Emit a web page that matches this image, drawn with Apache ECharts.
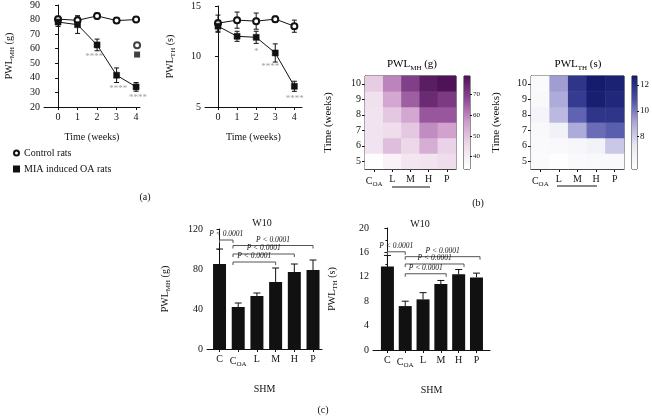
<!DOCTYPE html>
<html><head><meta charset="utf-8">
<script src="https://cdn.jsdelivr.net/npm/echarts@6/dist/echarts.min.js"></script>
<style>html,body{margin:0;padding:0;background:#fff}#c{width:652px;height:416px}</style>
</head><body><div id="c"></div>
<script>
// ---------- data ----------
const weeks = [0, 1, 2, 3, 4];
const weekLabels = ['0', '1', '2', '3', '4'];
const controlMH = [80.3, 79.5, 82.5, 79.3, 80.0];
const controlMHErr = [2, 3, 2, 2, 1.2];
const miaMH = [78.3, 76.5, 62.6, 41.8, 33.8];
const miaMHErr = [3, 6, 4, 5, 3];
const extraMarkersMH = [62.3, 56];
const starsMH = [[1.85, 54.6, '****'], [3.08, 32.9, '****'], [4.1, 26.7, '****']];

const controlTH = [13.3, 13.6, 13.5, 13.7, 13.0];
const controlTHErr = [0.8, 0.8, 0.8, 0.3, 0.6];
const miaTH = [13.0, 12.0, 11.9, 10.35, 7.05];
const miaTHErr = [0.6, 0.5, 0.6, 0.9, 0.5];
const starsTH = [[2, 10.5, '*'], [2.74, 9.0, '****'], [4.02, 5.85, '****']];

const heatGroups = ['C_OA', 'L', 'M', 'H', 'P'];
const heatTimes = ['5', '6', '7', '8', '9', '10'];
// rows: weeks 5..10, columns: C_OA, L, M, H, P
const heatMH = [
  [34, 38, 42, 43, 45],
  [43, 51, 46, 54, 47],
  [43, 45, 49, 59, 56],
  [43, 49, 55, 66, 66],
  [44, 55, 65, 74, 71],
  [48, 60, 70, 77, 79]
];
const heatTH = [
  [5.8, 5.6, 5.9, 6.0, 6.0],
  [5.9, 6.0, 6.1, 6.5, 8.2],
  [6.0, 6.6, 9.0, 10.3, 10.6],
  [6.4, 8.6, 10.5, 11.8, 11.8],
  [6.0, 9.0, 11.6, 12.6, 12.3],
  [5.9, 9.3, 11.8, 12.7, 12.5]
];
const mhRange = [34, 79];
const thRange = [5.5, 12.7];
const mhTicks = [40, 50, 60, 70];
const thTicks = [8, 10, 12];

const barCats = ['C', 'C_OA', 'L', 'M', 'H', 'P'];
const mhBar = [85, 42, 53, 67, 77, 79];
const mhBarErr = [15, 4, 3, 14, 8, 10];
const thBar = [13.7, 7.2, 8.3, 10.8, 12.4, 11.9];
const thBarErr = [1.8, 0.8, 1.1, 0.6, 0.8, 0.7];
const pText = 'P < 0.0001';
// [from category, to category, level]
const mhBrackets = [[0, 0.72, 109], [0.72, 5, 103.5], [0.72, 4, 95], [0.72, 3, 87]];
const thBrackets = [[0, 1, 16.1], [1, 5.2, 15.3], [1, 4.3, 14.1], [1, 3.3, 12.5]];

// ---------- styling ----------
const FONT = 'Liberation Serif';
const BLACK = '#111';
const mhColors = ['#ffffff', '#efdcec', '#cf9fcc', '#8e4a94', '#4d1356'];
const thColors = ['#ffffff', '#e8e8f4', '#aaa7d7', '#4a4fa6', '#151b6d'];
const rich = (big, small) => ({
  n: {fontSize: big, fontFamily: FONT, color: BLACK},
  s: {fontSize: small, fontFamily: FONT, color: BLACK, padding: [Math.round(big * 0.7), 0, 0, 0]}
});
const subLabel = (t) => t.includes('_') ? '{n|' + t.split('_')[0] + '}{s|' + t.split('_')[1] + '}' : '{n|' + t + '}';

const chart = echarts.init(document.getElementById('c'));

const axisLine = {show: true, lineStyle: {color: BLACK, width: 1}};
const tickOut = {show: true, inside: false, length: 3, lineStyle: {color: BLACK}};
const lbl = {color: BLACK, fontFamily: FONT, fontSize: 10};

function errRender(upOnly, cap) {
  return function (params, api) {
    const x = api.value(0), y = api.value(1), e = api.value(2);
    const hi = api.coord([x, y + e]);
    const lo = upOnly ? api.coord([x, y]) : api.coord([x, y - e]);
    const st = {stroke: BLACK, lineWidth: 1};
    const ch = [
      {type: 'line', shape: {x1: hi[0], y1: hi[1], x2: lo[0], y2: lo[1]}, style: st},
      {type: 'line', shape: {x1: hi[0] - cap, y1: hi[1], x2: hi[0] + cap, y2: hi[1]}, style: st}
    ];
    if (!upOnly) ch.push({type: 'line', shape: {x1: lo[0] - cap, y1: lo[1], x2: lo[0] + cap, y2: lo[1]}, style: st});
    return {type: 'group', children: ch};
  };
}
function bracketRender(params, api) {
  const y = api.value(2);
  const p1 = api.coord([api.value(0), y]), p2 = api.coord([api.value(1), y]);
  return {type: 'group', children: [
    {type: 'polyline', shape: {points: [[p1[0], p1[1] + 3], [p1[0], p1[1]], [p2[0], p2[1]], [p2[0], p2[1] + 3]]},
      style: {stroke: '#555', lineWidth: 1, fill: null}},
    {type: 'text', x: (p1[0] + p2[0]) / 2, y: p1[1] - 1.5,
      style: {text: pText, fontSize: 7.5, fontStyle: 'italic', fontFamily: FONT, fill: BLACK, align: 'center', verticalAlign: 'bottom'}}
  ]};
}

const series = [];
// line MH
series.push({type: 'custom', xAxisIndex: 0, yAxisIndex: 0, renderItem: errRender(false, 2.5), z: 1,
  data: weeks.map((w, i) => [w, controlMH[i], controlMHErr[i]])});
series.push({type: 'custom', xAxisIndex: 0, yAxisIndex: 0, renderItem: errRender(false, 2.5), z: 1,
  data: weeks.map((w, i) => [w, miaMH[i], miaMHErr[i]])});
const ctrlStyle = {symbol: 'circle', symbolSize: 6, lineStyle: {color: BLACK, width: 1},
  itemStyle: {color: '#fff', borderColor: BLACK, borderWidth: 2}};
const miaStyle = {symbol: 'rect', symbolSize: 6, lineStyle: {color: BLACK, width: 1},
  itemStyle: {color: BLACK, borderColor: BLACK, borderWidth: 0.5}};
series.push(Object.assign({type: 'line', name: 'Control rats', xAxisIndex: 0, yAxisIndex: 0, z: 3,
  data: weeks.map((w, i) => [w, controlMH[i]])}, ctrlStyle));
series.push(Object.assign({type: 'line', name: 'MIA induced OA rats', xAxisIndex: 0, yAxisIndex: 0, z: 3,
  data: weeks.map((w, i) => [w, miaMH[i]])}, miaStyle));
series.push({type: 'scatter', xAxisIndex: 0, yAxisIndex: 0, z: 3, symbolSize: 6,
  data: [{value: [4.05, extraMarkersMH[0]], symbol: 'circle', itemStyle: {color: '#fff', borderColor: BLACK, borderWidth: 2}},
         {value: [4.05, extraMarkersMH[1]], symbol: 'rect', itemStyle: {color: BLACK}}]});
const starSeries = (xi, yi, arr) => ({type: 'scatter', xAxisIndex: xi, yAxisIndex: yi, symbolSize: 1,
  itemStyle: {color: 'rgba(0,0,0,0)'}, z: 4,
  label: {show: true, position: 'inside', formatter: p => p.data.txt, color: '#888', fontSize: 9, fontFamily: FONT},
  data: arr.map(s => ({value: [s[0], s[1]], txt: s[2]}))});
series.push(starSeries(0, 0, starsMH));
// line TH
series.push({type: 'custom', xAxisIndex: 1, yAxisIndex: 1, renderItem: errRender(false, 2.5), z: 1,
  data: weeks.map((w, i) => [w, controlTH[i], controlTHErr[i]])});
series.push({type: 'custom', xAxisIndex: 1, yAxisIndex: 1, renderItem: errRender(false, 2.5), z: 1,
  data: weeks.map((w, i) => [w, miaTH[i], miaTHErr[i]])});
series.push(Object.assign({type: 'line', name: 'Control rats', xAxisIndex: 1, yAxisIndex: 1, z: 3,
  data: weeks.map((w, i) => [w, controlTH[i]])}, ctrlStyle));
series.push(Object.assign({type: 'line', name: 'MIA induced OA rats', xAxisIndex: 1, yAxisIndex: 1, z: 3,
  data: weeks.map((w, i) => [w, miaTH[i]])}, miaStyle));
series.push(starSeries(1, 1, starsTH));
// heatmaps
const heatData = (m) => { const d = []; m.forEach((row, r) => row.forEach((v, c) => d.push([c, r, v]))); return d; };
const hmIdx = series.length;
series.push({type: 'heatmap', xAxisIndex: 2, yAxisIndex: 2, data: heatData(heatMH)});
const htIdx = series.length;
series.push({type: 'heatmap', xAxisIndex: 3, yAxisIndex: 3, data: heatData(heatTH)});
// colorbars
const grad = (cols) => new echarts.graphic.LinearGradient(0, 1, 0, 0, cols.map((c, i) => ({offset: i / (cols.length - 1), color: c})));
series.push({type: 'bar', xAxisIndex: 6, yAxisIndex: 6, stack: 'cb1', barWidth: '100%', data: [mhRange[0]], itemStyle: {color: 'rgba(0,0,0,0)'}});
series.push({type: 'bar', xAxisIndex: 6, yAxisIndex: 6, stack: 'cb1', barWidth: '100%', data: [mhRange[1] - mhRange[0]], itemStyle: {color: grad(mhColors)}});
series.push({type: 'bar', xAxisIndex: 7, yAxisIndex: 7, stack: 'cb2', barWidth: '100%', data: [thRange[0]], itemStyle: {color: 'rgba(0,0,0,0)'}});
series.push({type: 'bar', xAxisIndex: 7, yAxisIndex: 7, stack: 'cb2', barWidth: '100%', data: [thRange[1] - thRange[0]], itemStyle: {color: grad(thColors)}});
// bars
series.push({type: 'bar', xAxisIndex: 4, yAxisIndex: 4, barWidth: 13, itemStyle: {color: BLACK}, data: mhBar.map((v, i) => [i, v])});
series.push({type: 'custom', xAxisIndex: 4, yAxisIndex: 4, renderItem: errRender(true, 3.5), data: mhBar.map((v, i) => [i, v, mhBarErr[i]])});
series.push({type: 'custom', xAxisIndex: 4, yAxisIndex: 4, renderItem: bracketRender, data: mhBrackets});
series.push({type: 'bar', xAxisIndex: 5, yAxisIndex: 5, barWidth: 13, itemStyle: {color: BLACK}, data: thBar.map((v, i) => [i, v])});
series.push({type: 'custom', xAxisIndex: 5, yAxisIndex: 5, renderItem: errRender(true, 3.5), data: thBar.map((v, i) => [i, v, thBarErr[i]])});
series.push({type: 'custom', xAxisIndex: 5, yAxisIndex: 5, renderItem: bracketRender, data: thBrackets});

const nameStyle = (big, small) => ({rich: rich(big, small)});
const valX = (gi, min, max, vals, fmt, name, gap) => ({
  type: 'value', gridIndex: gi, min: min, max: max, splitLine: {show: false},
  axisLine: axisLine, axisTick: Object.assign({customValues: vals}, tickOut),
  axisLabel: Object.assign({customValues: vals, formatter: fmt, margin: 5, rich: rich(10, 7)}, lbl),
  name: name, nameLocation: 'middle', nameGap: gap, nameTextStyle: {fontFamily: FONT, fontSize: 10, color: BLACK}
});
const valY = (gi, min, max, interval, name, gap, big, small, minor) => ({
  type: 'value', gridIndex: gi, min: min, max: max, interval: interval, splitLine: {show: false},
  axisLine: axisLine, axisTick: tickOut, axisLabel: Object.assign({margin: 4}, lbl),
  minorTick: {show: !!minor, splitNumber: 2, length: 2, lineStyle: {color: BLACK}},
  name: name, nameLocation: 'middle', nameGap: gap, nameRotate: 90, nameTextStyle: nameStyle(big, small)
});
const catIdx = (i) => subLabel(barCats[Math.round(i)]);

const option = {
  animation: false,
  backgroundColor: '#fff',
  textStyle: {fontFamily: FONT, color: BLACK},
  legend: {
    orient: 'vertical', left: 13, top: 148, itemWidth: 5, itemHeight: 5, itemGap: 6, padding: 0,
    textStyle: {fontFamily: FONT, fontSize: 10, color: BLACK},
    data: [{name: 'Control rats', icon: 'circle'}, {name: 'MIA induced OA rats', icon: 'rect'}]
  },
  grid: [
    {left: 44, top: 4, width: 96, height: 103},
    {left: 205, top: 6, width: 97, height: 101},
    {left: 365, top: 76, width: 91, height: 93, show: true, borderColor: '#222', borderWidth: 1},
    {left: 531, top: 76, width: 93, height: 93, show: true, borderColor: '#222', borderWidth: 1},
    {left: 207, top: 229, width: 115, height: 120},
    {left: 373, top: 228, width: 117, height: 122},
    {left: 464, top: 76, width: 6, height: 93, show: true, borderColor: '#222', borderWidth: 1},
    {left: 632, top: 76, width: 5, height: 93, show: true, borderColor: '#222', borderWidth: 1}
  ],
  xAxis: [
    valX(0, -0.72, 4.2, weeks, v => weekLabels[Math.round(v)], 'Time (weeks)', 25),
    valX(1, -0.68, 4.4, weeks, v => weekLabels[Math.round(v)], 'Time (weeks)', 25),
    {type: 'category', gridIndex: 2, data: heatGroups, axisLine: axisLine,
      axisTick: Object.assign({alignWithLabel: true}, tickOut),
      axisLabel: Object.assign({formatter: subLabel, rich: rich(10, 7), margin: 5, interval: 0}, lbl)},
    {type: 'category', gridIndex: 3, data: heatGroups, axisLine: axisLine,
      axisTick: Object.assign({alignWithLabel: true}, tickOut),
      axisLabel: Object.assign({formatter: subLabel, rich: rich(10, 7), margin: 5, interval: 0}, lbl)},
    valX(4, -0.67, 5.48, [0, 1, 2, 3, 4, 5], catIdx, 'SHM', 35),
    valX(5, -0.81, 5.76, [0, 1, 2, 3, 4, 5], catIdx, 'SHM', 35),
    {type: 'category', gridIndex: 6, data: ['a'], show: false},
    {type: 'category', gridIndex: 7, data: ['a'], show: false}
  ],
  yAxis: [
    valY(0, 20, 90, 10, '{n|PWL}{s|MH}{n| (g)}', 28, 10, 7),
    valY(1, 5, 15, 5, '{n|PWL}{s|TH}{n| (s)}', 28, 10, 7),
    {type: 'category', gridIndex: 2, data: heatTimes, axisLine: axisLine,
      axisTick: Object.assign({alignWithLabel: true}, tickOut), axisLabel: Object.assign({margin: 4}, lbl),
      name: 'Time (weeks)', nameLocation: 'middle', nameGap: 31, nameRotate: 90,
      nameTextStyle: {fontFamily: FONT, fontSize: 11, color: BLACK}},
    {type: 'category', gridIndex: 3, data: heatTimes, axisLine: axisLine,
      axisTick: Object.assign({alignWithLabel: true}, tickOut), axisLabel: Object.assign({margin: 4}, lbl),
      name: 'Time (weeks)', nameLocation: 'middle', nameGap: 29, nameRotate: 90,
      nameTextStyle: {fontFamily: FONT, fontSize: 11, color: BLACK}},
    valY(4, 0, 120, 40, '{n|PWL}{s|MH}{n| (g)}', 35, 10, 7, true),
    valY(5, 0, 20, 4, '{n|PWL}{s|TH}{n| (s)}', 34, 10, 7, true),
    {type: 'value', gridIndex: 6, position: 'right', min: mhRange[0], max: mhRange[1], splitLine: {show: false},
      axisLine: {show: false}, axisTick: {show: true, length: 2, customValues: mhTicks, lineStyle: {color: BLACK}},
      axisLabel: {customValues: mhTicks, fontSize: 7, fontFamily: FONT, color: BLACK, margin: 3}},
    {type: 'value', gridIndex: 7, position: 'right', min: thRange[0], max: thRange[1], splitLine: {show: false},
      axisLine: {show: false}, axisTick: {show: true, length: 2, customValues: thTicks, lineStyle: {color: BLACK}},
      axisLabel: {customValues: thTicks, fontSize: 9, fontFamily: FONT, color: BLACK, margin: 3}}
  ],
  visualMap: [
    {type: 'continuous', show: false, min: mhRange[0], max: mhRange[1], seriesIndex: hmIdx, dimension: 2, inRange: {color: mhColors}},
    {type: 'continuous', show: false, min: thRange[0], max: thRange[1], seriesIndex: htIdx, dimension: 2, inRange: {color: thColors}}
  ],
  graphic: [
    {type: 'text', x: 412, y: 64, style: {text: '{n|PWL}{s|MH}{n| (g)}', rich: rich(11, 7), align: 'center', verticalAlign: 'middle'}},
    {type: 'text', x: 578, y: 64, style: {text: '{n|PWL}{s|TH}{n| (s)}', rich: rich(11, 7), align: 'center', verticalAlign: 'middle'}},
    {type: 'line', shape: {x1: 392, y1: 187, x2: 430, y2: 187}, style: {stroke: BLACK, lineWidth: 1}},
    {type: 'line', shape: {x1: 557, y1: 186, x2: 597, y2: 186}, style: {stroke: BLACK, lineWidth: 1}},
    {type: 'text', x: 262, y: 223, style: {text: 'W10', font: '10px "Liberation Serif"', fill: BLACK, align: 'center', verticalAlign: 'middle'}},
    {type: 'text', x: 420, y: 224, style: {text: 'W10', font: '10px "Liberation Serif"', fill: BLACK, align: 'center', verticalAlign: 'middle'}},
    {type: 'text', x: 145, y: 197, style: {text: '(a)', font: '10px "Liberation Serif"', fill: BLACK, align: 'center', verticalAlign: 'middle'}},
    {type: 'text', x: 478, y: 203, style: {text: '(b)', font: '10px "Liberation Serif"', fill: BLACK, align: 'center', verticalAlign: 'middle'}},
    {type: 'text', x: 323, y: 410, style: {text: '(c)', font: '10px "Liberation Serif"', fill: BLACK, align: 'center', verticalAlign: 'middle'}}
  ],
  series: series
};
chart.setOption(option);
</script>
</body></html>
